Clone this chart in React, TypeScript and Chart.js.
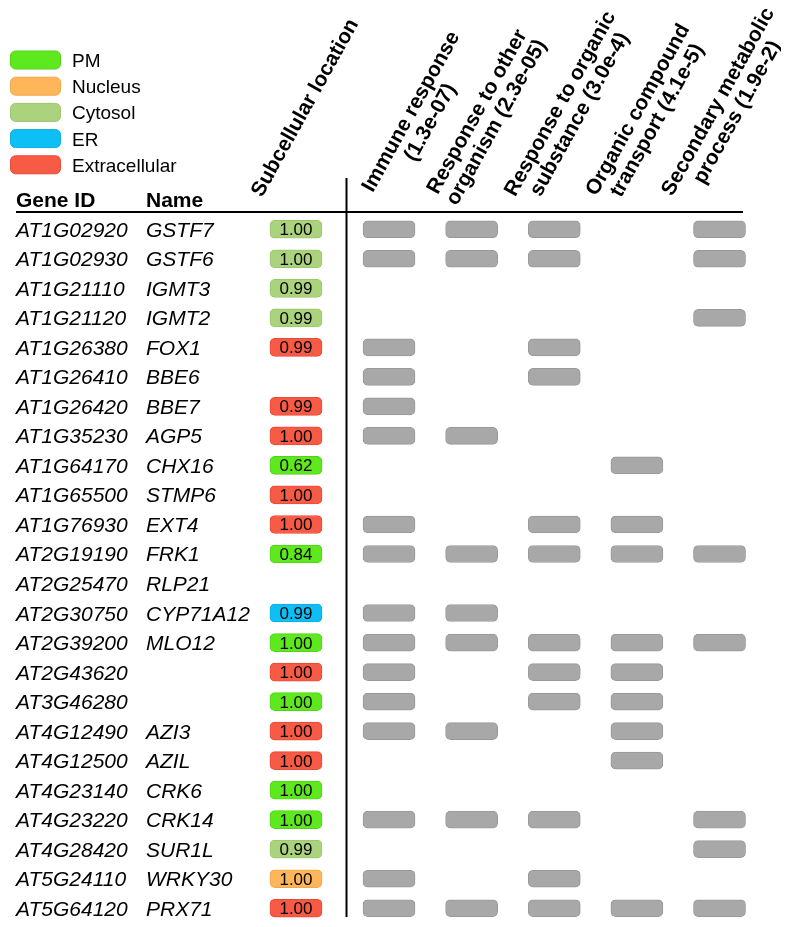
import React, { useEffect, useRef } from "react";
import { Chart, registerables } from "chart.js";

Chart.register(...registerables);

// ---------------- DATA ----------------
const GENE_IDS = [
  "AT1G02920", "AT1G02930", "AT1G21110", "AT1G21120", "AT1G26380", "AT1G26410",
  "AT1G26420", "AT1G35230", "AT1G64170", "AT1G65500", "AT1G76930", "AT2G19190",
  "AT2G25470", "AT2G30750", "AT2G39200", "AT2G43620", "AT3G46280", "AT4G12490",
  "AT4G12500", "AT4G23140", "AT4G23220", "AT4G28420", "AT5G24110", "AT5G64120",
];
const GENE_NAMES = [
  "GSTF7", "GSTF6", "IGMT3", "IGMT2", "FOX1", "BBE6",
  "BBE7", "AGP5", "CHX16", "STMP6", "EXT4", "FRK1",
  "RLP21", "CYP71A12", "MLO12", "", "", "AZI3",
  "AZIL", "CRK6", "CRK14", "SUR1L", "WRKY30", "PRX71",
];
const LOCATIONS: (string | null)[] = [
  "Cytosol", "Cytosol", "Cytosol", "Cytosol", "Extracellular", null,
  "Extracellular", "Extracellular", "PM", "Extracellular", "Extracellular", "PM",
  null, "ER", "PM", "Extracellular", "PM", "Extracellular",
  "Extracellular", "PM", "PM", "Cytosol", "Nucleus", "Extracellular",
];
const LOC_SCORES: (number | null)[] = [
  1.0, 1.0, 0.99, 0.99, 0.99, null,
  0.99, 1.0, 0.62, 1.0, 1.0, 0.84,
  null, 0.99, 1.0, 1.0, 1.0, 1.0,
  1.0, 1.0, 1.0, 0.99, 1.0, 1.0,
];

const LEGEND_LABELS = ["PM", "Nucleus", "Cytosol", "ER", "Extracellular"];
const LEGEND_COLORS = ["#5EE81E", "#FDB65A", "#ABD37D", "#0DBFF5", "#F75A45"];
const LEGEND_BORDERS = ["#52D416", "#F2A848", "#9DC56E", "#0AAEE2", "#E64B37"];

const TERM_LINE1 = ["Immune response", "Response to other", "Response to organic", "Organic compound", "Secondary metabolic"];
const TERM_LINE2 = ["(1.3e-07)", "organism (2.3e-05)", "substance (3.0e-4)", "transport (4.1e-5)", "process (1.9e-2)"];

const IMMUNE =      [1,1,0,0,1,1,1,1,0,0,1,1,0,1,1,1,1,1,0,0,1,0,1,1];
const OTHER_ORG =   [1,1,0,0,0,0,0,1,0,0,0,1,0,1,1,0,0,1,0,0,1,0,0,1];
const ORG_SUBST =   [1,1,0,0,1,1,0,0,0,0,1,1,0,0,1,1,1,0,0,0,1,0,1,1];
const ORG_TRANSP =  [0,0,0,0,0,0,0,0,1,0,1,1,0,0,1,1,1,1,1,0,0,0,0,1];
const SEC_METAB =   [1,1,0,1,0,0,0,0,0,0,0,1,0,0,1,0,0,0,0,0,1,1,0,1];
const TERM_MEMBERSHIP = [IMMUNE, OTHER_ORG, ORG_SUBST, ORG_TRANSP, SEC_METAB];

// ---------------- LAYOUT ----------------
const W = 800;
const H = 927;
const FONT = "'Liberation Sans', Arial, Helvetica, sans-serif";
const X_MIN = -3.708;
const X_MAX = 5.974;
const HALF_W = 0.315;
const BADGE_POS = -0.126;
const ANGLE = (-61 * Math.PI) / 180;
const HEADER_DX = [37, 20.5, 21, 16, 13.5];
const HEADER_CY = [120, 120, 112, 118, 110];
const GRAY = "#A8A8A8";
const GRAY_BORDER = "#999999";

function colorFor(loc: string | null, border = false) {
  const i = loc ? LEGEND_LABELS.indexOf(loc) : -1;
  if (i < 0) return "rgba(0,0,0,0)";
  return border ? LEGEND_BORDERS[i] : LEGEND_COLORS[i];
}

function roundRect(ctx: CanvasRenderingContext2D, x: number, y: number, w: number, h: number, r: number) {
  ctx.beginPath();
  ctx.moveTo(x + r, y);
  ctx.lineTo(x + w - r, y);
  ctx.arcTo(x + w, y, x + w, y + r, r);
  ctx.lineTo(x + w, y + h - r);
  ctx.arcTo(x + w, y + h, x + w - r, y + h, r);
  ctx.lineTo(x + r, y + h);
  ctx.arcTo(x, y + h, x, y + h - r, r);
  ctx.lineTo(x, y + r);
  ctx.arcTo(x, y, x + r, y, r);
  ctx.closePath();
}

const tablePlugin = {
  id: "tablePlugin",
  afterDatasetsDraw(chart: any) {
    const ctx: CanvasRenderingContext2D = chart.ctx;
    const xs = chart.scales.x;
    const ys = chart.scales.y;
    ctx.save();

    // Legend
    LEGEND_LABELS.forEach((lab, i) => {
      const cy = 60 + i * 26.2;
      roundRect(ctx, 10.5, cy - 9, 50, 18, 5);
      ctx.fillStyle = LEGEND_COLORS[i];
      ctx.fill();
      ctx.strokeStyle = LEGEND_BORDERS[i];
      ctx.lineWidth = 1;
      ctx.stroke();
      ctx.fillStyle = "#000";
      ctx.font = `19px ${FONT}`;
      ctx.textAlign = "left";
      ctx.textBaseline = "alphabetic";
      ctx.fillText(lab, 72, cy + 7);
    });

    // Column headers
    ctx.fillStyle = "#000";
    ctx.font = `bold 21px ${FONT}`;
    ctx.textAlign = "left";
    ctx.textBaseline = "alphabetic";
    ctx.fillText("Gene ID", 16, 207);
    ctx.fillText("Name", 146, 207);

    // Rotated headers
    const drawRot = (lines: string[], cx: number, cy: number) => {
      ctx.save();
      ctx.translate(cx, cy);
      ctx.rotate(ANGLE);
      ctx.textAlign = "center";
      ctx.textBaseline = "alphabetic";
      ctx.font = `bold 21px ${FONT}`;
      ctx.fillStyle = "#000";
      lines.forEach((ln, i) => {
        ctx.fillText(ln, 0, (i - (lines.length - 1) / 2) * 22);
      });
      ctx.restore();
    };
    drawRot(["Subcellular location"], xs.getPixelForValue(BADGE_POS) + 14.5, 110.7);
    ctx.save();
    ctx.beginPath();
    ctx.rect(0, 0, 781, H);
    ctx.clip();
    TERM_LINE1.forEach((l1, k) => {
      const cx = xs.getPixelForValue(k + 1) + HEADER_DX[k];
      drawRot([l1, TERM_LINE2[k]], cx, HEADER_CY[k]);
    });
    ctx.restore();

    // Lines
    ctx.strokeStyle = "#000";
    ctx.lineWidth = 2;
    ctx.beginPath();
    ctx.moveTo(16, 212);
    ctx.lineTo(743, 212);
    ctx.stroke();
    ctx.beginPath();
    ctx.moveTo(346.5, 178);
    ctx.lineTo(346.5, 917);
    ctx.stroke();

    // Rows
    GENE_IDS.forEach((id, i) => {
      const cy = ys.getPixelForValue(i);
      ctx.fillStyle = "#000";
      ctx.textAlign = "left";
      ctx.textBaseline = "alphabetic";
      ctx.font = `italic 21px ${FONT}`;
      ctx.fillText(id, 16, cy + 7.5);
      if (GENE_NAMES[i]) ctx.fillText(GENE_NAMES[i], 146, cy + 7.5);
      const s = LOC_SCORES[i];
      if (s !== null && LOCATIONS[i]) {
        ctx.font = `17px ${FONT}`;
        ctx.textAlign = "center";
        ctx.fillText(s.toFixed(2), xs.getPixelForValue(BADGE_POS), cy + 6);
      }
    });
    ctx.restore();
  },
};

export default function App() {
  const ref = useRef<HTMLCanvasElement | null>(null);
  useEffect(() => {
    if (!ref.current) return;
    const termDatasets = TERM_MEMBERSHIP.map((arr, k) => ({
      label: TERM_LINE1[k],
      data: arr.map((v) => (v ? [k + 1 - HALF_W, k + 1 + HALF_W] : null)),
      backgroundColor: GRAY,
      borderColor: GRAY_BORDER,
      borderWidth: 1,
      borderRadius: 5,
      borderSkipped: false,
      barThickness: 17,
      grouped: false,
    }));
    const badgeDataset = {
      label: "Subcellular location",
      data: LOCATIONS.map((loc) => (loc ? [BADGE_POS - HALF_W, BADGE_POS + HALF_W] : null)),
      backgroundColor: LOCATIONS.map((l) => colorFor(l)),
      borderColor: LOCATIONS.map((l) => colorFor(l, true)),
      borderWidth: 1,
      borderRadius: 5,
      borderSkipped: false,
      barThickness: 18,
      grouped: false,
    };
    const chart = new Chart(ref.current, {
      type: "bar",
      data: { labels: GENE_IDS, datasets: [badgeDataset, ...termDatasets] as any },
      options: {
        indexAxis: "y",
        animation: false,
        responsive: false,
        devicePixelRatio: 1,
        layout: { padding: { left: 0, right: 0, top: 214.5, bottom: 4 } },
        plugins: { legend: { display: false }, tooltip: { enabled: false } },
        scales: {
          x: { type: "linear", min: X_MIN, max: X_MAX, display: false },
          y: { type: "category", display: false, offset: true },
        },
      },
      plugins: [tablePlugin],
    });
    return () => chart.destroy();
  }, []);
  return (
    <div style={{ position: "absolute", left: 0, top: 0, width: W, height: H, background: "#fff" }}>
      <canvas ref={ref} width={W} height={H} style={{ width: W, height: H, display: "block" }} />
    </div>
  );
}
